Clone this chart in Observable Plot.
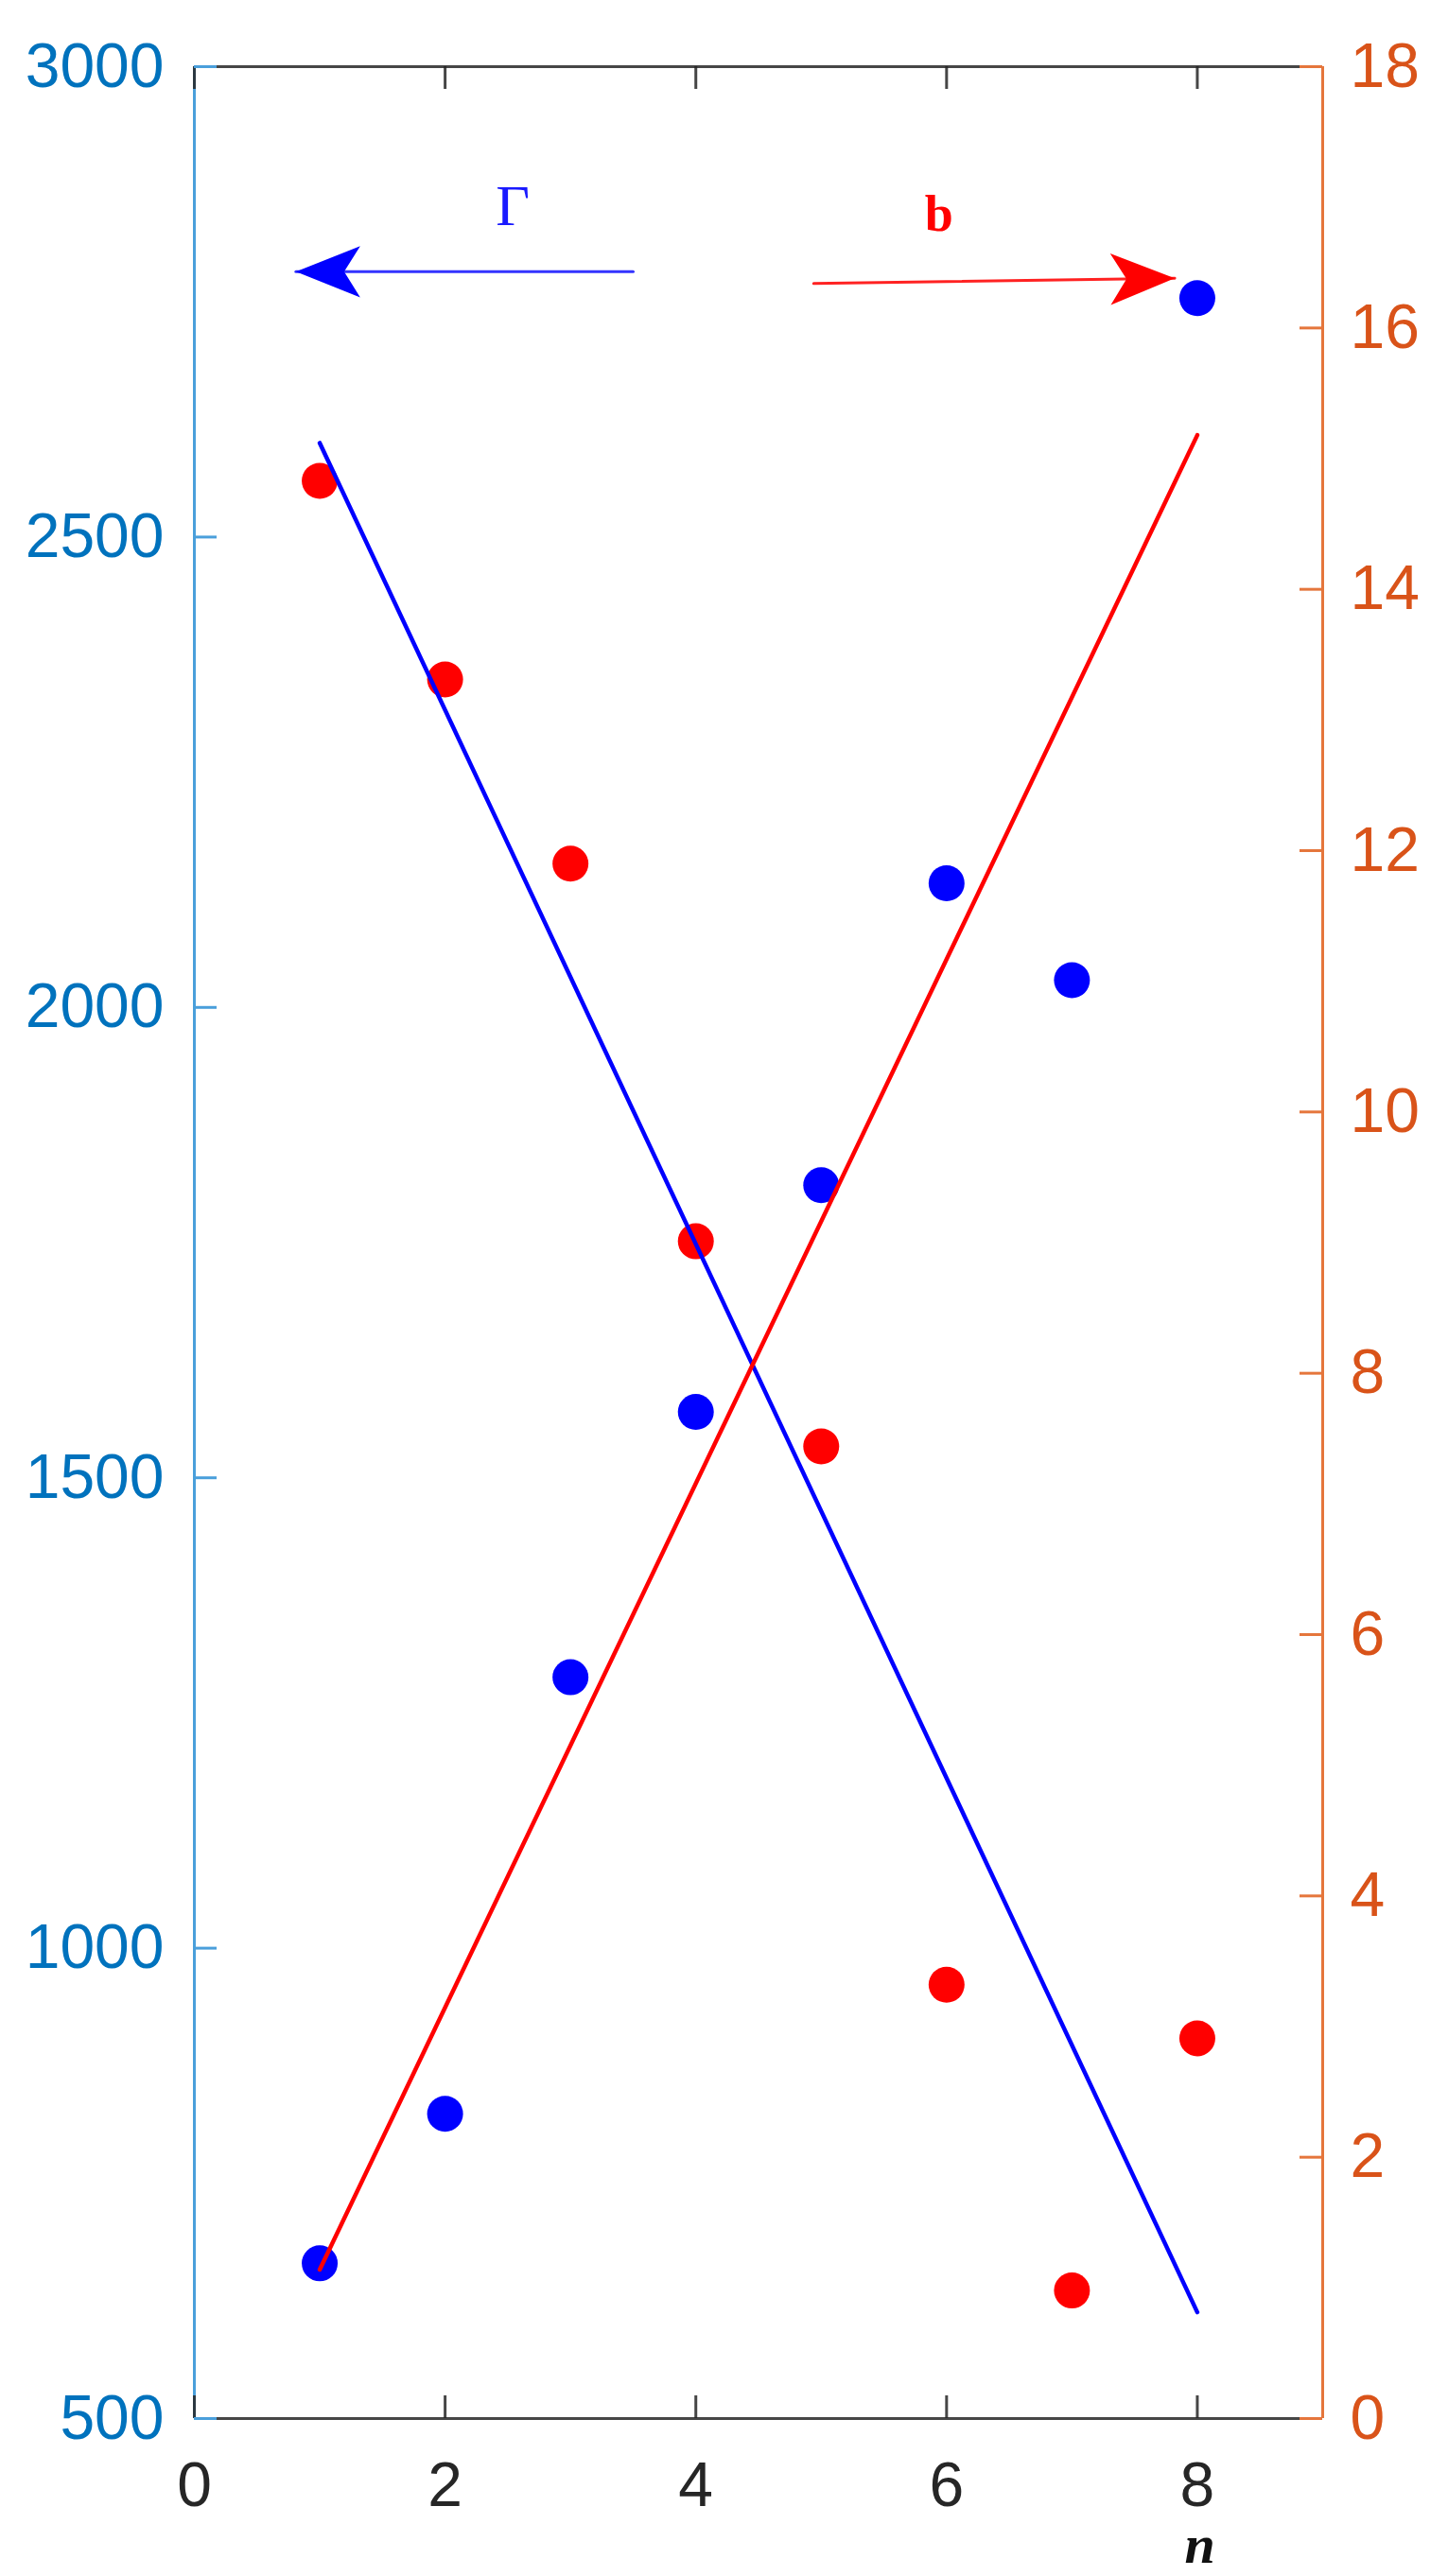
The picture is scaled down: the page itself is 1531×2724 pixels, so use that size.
<!DOCTYPE html>
<html><head><meta charset="utf-8">
<script src="https://cdn.jsdelivr.net/npm/d3@7"></script>
<script src="https://cdn.jsdelivr.net/npm/@observablehq/plot@0.6"></script>
<style>body{margin:0;background:#fff}</style>
</head><body><div id="chart"></div>
<script>
// ---- data ----
const n = [1, 2, 3, 4, 5, 6, 7, 8];
const gamma = [665, 824, 1288, 1570, 1811, 2132, 2029, 2754];
const bVals = [14.83, 13.31, 11.90, 9.01, 7.44, 3.32, 0.98, 2.91];
const gammaFitN = [1, 8];
const gammaFit = [2600, 613];
const bFitN = [1, 8];
const bFit = [1.14, 15.18];
const xTicks = [0, 2, 4, 6, 8];
const gammaTicks = [500, 1000, 1500, 2000, 2500, 3000];
const bTicks = [0, 2, 4, 6, 8, 10, 12, 14, 16, 18];
const gammaArrowN = [3.5, 0.81];
const gammaArrowY = [2782, 2782];
const bArrowN = [4.94, 7.82];
const bArrowB = [16.34, 16.38];
const gammaLabelN = [2.54];
const gammaLabelY = [2852];
const bLabelN = [5.94];
const bLabelB = [16.87];
const nLabelN = [8.02];

// ---- layout / helpers ----
const W = 1531, H = 2724, ML = 205, MR = 133, MT = 70, MB = 167;
const plotW = W - ML - MR, plotH = H - MT - MB;
const TICK = 24;
const G0 = 500, G1 = 3000, B1 = 18;
const toG = b => G0 + b * (G1 - G0) / B1;
const fromG = g => (g - G0) * B1 / (G1 - G0);

const blueTxt = "#0072BD", blueAx = "#4A9FDB";
const orTxt = "#D95319", orAx = "#E5763C";
const dark = "#262626";
const sans = "'Liberation Sans', Arial, Helvetica, sans-serif";
const serif = "'Liberation Serif', 'Times New Roman', serif";

const stealth = {
  draw(ctx, size) {
    const r = Math.sqrt(size / Math.PI);
    ctx.moveTo(0, 0);
    ctx.lineTo(-2 * r, -0.8 * r);
    ctx.lineTo(-1.5 * r, 0);
    ctx.lineTo(-2 * r, 0.8 * r);
    ctx.closePath();
  }
};

const chart = Plot.plot({
  width: W,
  height: H,
  marginLeft: ML,
  marginRight: MR,
  marginTop: MT,
  marginBottom: MB,
  style: {background: "white", fontFamily: sans, color: dark},
  x: {domain: [0, 9]},
  y: {domain: [G0, G1]},
  marks: [
    // frame lines
    Plot.ruleY([G0, G1], {stroke: dark, strokeWidth: 3, strokeOpacity: 0.85}),
    Plot.ruleX([0], {stroke: blueAx, strokeWidth: 3}),
    Plot.ruleX([9], {stroke: orAx, strokeWidth: 3}),
    // inward ticks
    Plot.tickX(xTicks, {x: d => d, insetTop: plotH - TICK, stroke: dark, strokeWidth: 3, strokeOpacity: 0.85}),
    Plot.tickX(xTicks, {x: d => d, insetBottom: plotH - TICK, stroke: dark, strokeWidth: 3, strokeOpacity: 0.85}),
    Plot.tickY(gammaTicks, {y: d => d, insetRight: plotW - TICK, stroke: blueAx, strokeWidth: 3}),
    Plot.tickY(bTicks, {y: d => toG(d), insetLeft: plotW - TICK, stroke: orAx, strokeWidth: 3}),
    // tick labels
    Plot.axisX({anchor: "bottom", ticks: xTicks, tickFormat: d => String(d), tickSize: 0, tickPadding: 46, fontSize: 66, fill: dark, label: null}),
    Plot.axisY({anchor: "left", ticks: gammaTicks, tickFormat: d => String(d), tickSize: 0, tickPadding: 32, fontSize: 66, fill: blueTxt, label: null}),
    Plot.axisY({anchor: "right", ticks: bTicks.map(toG), tickFormat: g => String(Math.round(fromG(g))), tickSize: 0, tickPadding: 29, fontSize: 66, fill: orTxt, label: null}),
    // data points
    Plot.dot(n, {x: d => d, y: (d, i) => gamma[i], r: 19, fill: "#0000FF", stroke: "none"}),
    Plot.dot(n, {x: d => d, y: (d, i) => toG(bVals[i]), r: 19, fill: "#FF0000", stroke: "none"}),
    // fit lines
    Plot.line(gammaFitN, {x: d => d, y: (d, i) => gammaFit[i], stroke: "#0000FF", strokeWidth: 4.5}),
    Plot.line(bFitN, {x: d => d, y: (d, i) => toG(bFit[i]), stroke: "#FF0000", strokeWidth: 4.5}),
    // arrows
    Plot.line(gammaArrowN, {x: d => d, y: (d, i) => gammaArrowY[i], stroke: "#3333FF", strokeWidth: 3}),
    Plot.dot([gammaArrowN[1]], {x: d => d, y: () => gammaArrowY[1], symbol: stealth, r: 34, fill: "#0000FF", stroke: "none", rotate: 180}),
    Plot.line(bArrowN, {x: d => d, y: (d, i) => toG(bArrowB[i]), stroke: "#FF2222", strokeWidth: 3}),
    Plot.dot([bArrowN[1]], {x: d => d, y: () => toG(bArrowB[1]), symbol: stealth, r: 34, fill: "#FF0000", stroke: "none", rotate: -0.8}),
    // annotation labels
    Plot.text(gammaLabelN, {x: d => d, y: (d, i) => gammaLabelY[i], text: () => "Γ", fontFamily: serif, fontSize: 62, fill: "#1a1aff"}),
    Plot.text(bLabelN, {x: d => d, y: (d, i) => toG(bLabelB[i]), text: () => "b", fontFamily: serif, fontWeight: "bold", fontSize: 54, fill: "#FF0000"}),
    Plot.text(nLabelN, {x: d => d, y: () => G0, dy: 134, text: () => "n", fontFamily: serif, fontStyle: "italic", fontWeight: "bold", fontSize: 58, fill: "#111"})
  ]
});
document.getElementById("chart").appendChild(chart);
</script>
</body></html>
